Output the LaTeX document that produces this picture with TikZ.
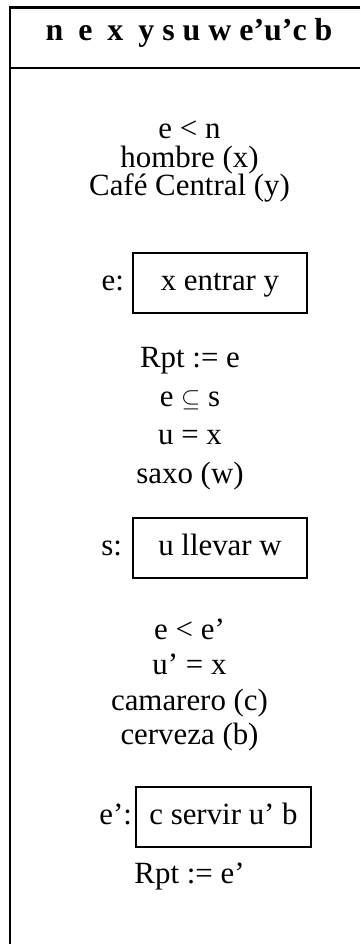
\documentclass[tikz,border=0pt]{standalone}
\usepackage{fontspec}
\setmainfont{Liberation Serif}
\begin{document}
\begin{tikzpicture}[x=1bp,y=-1bp,
  every node/.style={inner sep=0pt, outer sep=0pt},
  txt/.style={font=\fontsize{31}{31}\selectfont, anchor=base},
  head/.style={font=\fontsize{32}{32}\selectfont\bfseries, anchor=base},
  lab/.style={font=\fontsize{31}{31}\selectfont, anchor=base east},
  frame/.style={line width=2.2bp, line join=miter},
  evbox/.style={draw, line width=1.6bp, font=\fontsize{31}{31}\selectfont,
    minimum height=60bp, text height=22bp, text depth=7bp, align=center}]
\useasboundingbox (0,0) rectangle (360,944);

% outer frame, open to the right and bottom
\coordinate (tl) at (10,7.5);
\coordinate (tr) at (360,7.5);
\coordinate (bl) at (10,944);
\coordinate (sl) at (10,68);
\coordinate (sr) at (360,68);
\draw[frame] (tr) -- (tl) -- (bl);
\draw[line width=2bp] (sl) -- (sr);

% universe of discourse
\node[head] (hdr) at (189,40) {n\hspace{15bp}e\hspace{15bp}x\hspace{15bp}y s u w e’u’c b};

% first block of conditions
\node[txt] (c1) at (189.5,138) {e < n};
\node[txt] (c2) at (189.5,167) {hombre (x)};
\node[txt] (c3) at (189.5,195) {Café Central (y)};

\node[evbox, minimum width=174bp] (b1) at (220,283) {x entrar y};
\node[lab] (l1) at (124,290.5) {e:};

% second block
\node[txt] (d1) at (190,367) {Rpt := e};
\node[txt] (d2) at (190,406) {e $\subseteq$ s};
\node[txt] (d3) at (190,444) {u = x};
\node[txt] (d4) at (190,483) {saxo (w)};

\node[evbox, minimum width=174bp] (b2) at (220,548) {u llevar w};
\node[lab] (l2) at (122,555.5) {s:};

% third block
\node[txt] (f1) at (189.5,639) {e < e’};
\node[txt] (f2) at (189.5,674) {u’ = x};
\node[txt] (f3) at (189.5,710) {camarero (c)};
\node[txt] (f4) at (189.5,744) {cerveza (b)};

\node[evbox, minimum width=175bp] (b3) at (223.5,817) {c servir u’ b};
\node[lab] (l3) at (132,824.5) {e’:};

\node[txt] (g1) at (189.5,883) {Rpt := e’};
\end{tikzpicture}
\end{document}
